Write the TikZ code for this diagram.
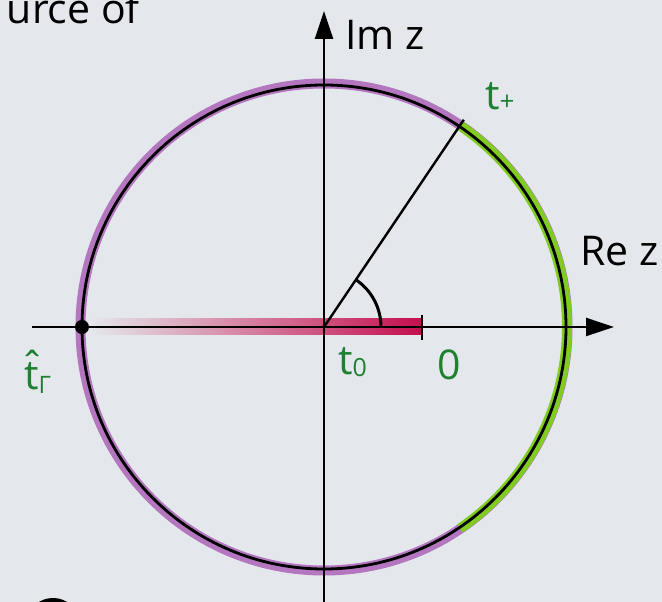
\documentclass[tikz,border=0pt]{standalone}
\usepackage{fontspec}
\setmainfont{Open Sans}
\usetikzlibrary{arrows.meta}
\definecolor{bg}{RGB}{228,232,236}
\definecolor{arcpurple}{RGB}{180,118,190}
\definecolor{arcgreen}{RGB}{128,204,32}
\definecolor{barred}{RGB}{196,14,78}
\definecolor{lblgreen}{RGB}{30,128,48}
\begin{document}
\begin{tikzpicture}[x=1pt,y=1pt,
  axis/.style={line width=2.4pt,-{Triangle[length=28pt,width=18pt]}},
  thin/.style={line width=2.8pt},
  band/.style={line width=10pt},
  lbl/.style={font=\fontsize{41}{41}\selectfont, inner sep=0pt, anchor=base west},
  glbl/.style={lbl, text=lblgreen}]
\useasboundingbox (0,0) rectangle (662,602);
\clip (0,0) rectangle (662,602);
\fill[bg] (0,0) rectangle (662,602);
\coordinate (C) at (324,275);
\coordinate (xl) at (32,275);
\coordinate (xr) at (614,275);
\coordinate (yb) at (324,-5);
\coordinate (yt) at (324,591);
\coordinate (tp) at ([shift={(56:250)}]C);
\coordinate (bl) at (90,267);
\coordinate (br) at (422,283);
\coordinate (tk1) at (422,262);
\coordinate (tk2) at (422,287);
% circle
\draw[band,arcpurple] (C) circle[radius=243.5];
\draw[band,arcgreen] ([shift={(-56:243)}]C) arc[start angle=-56,end angle=56,radius=243];
\draw[thin] (C) circle[radius=242];
% bar
\shade[left color=bg, right color=barred] (bl) rectangle (br);
% axes
\draw[axis] (xl) -- (xr);
\draw[axis] (yb) -- (yt);
% ray and angle
\draw[line width=2.4pt] (C) -- (tp);
\draw[line width=3pt] ([shift={(0:57)}]C) arc[start angle=0,end angle=56,radius=57];
\draw[line width=2.4pt] (tk1) -- (tk2);
\fill (82,275) circle[radius=7];
% labels
\node[lbl] (im) at (345,552) {Im z};
\node[lbl] (re) at (580,336) {Re z};
\node[glbl] (tplus) at (485,492) {t\raisebox{-1pt}{\fontsize{26}{26}\selectfont +}};
\node[glbl] (tzero) at (338,227) {t\raisebox{-2pt}{\fontsize{25}{25}\selectfont 0}};
\node[glbl] (zero) at (437,222) {0};
\node[glbl] (tgam) at (24,212) {\makebox[0pt][l]{\hspace{-4pt}\raisebox{8pt}{ˆ}}t\raisebox{-4pt}{\fontsize{24}{24}\selectfont Γ}};
\node[lbl, anchor=base east] (src) at (140,578) {urce of};
\draw[line width=4pt] (53,-17) ellipse[x radius=22,y radius=19];
\end{tikzpicture}
\end{document}
